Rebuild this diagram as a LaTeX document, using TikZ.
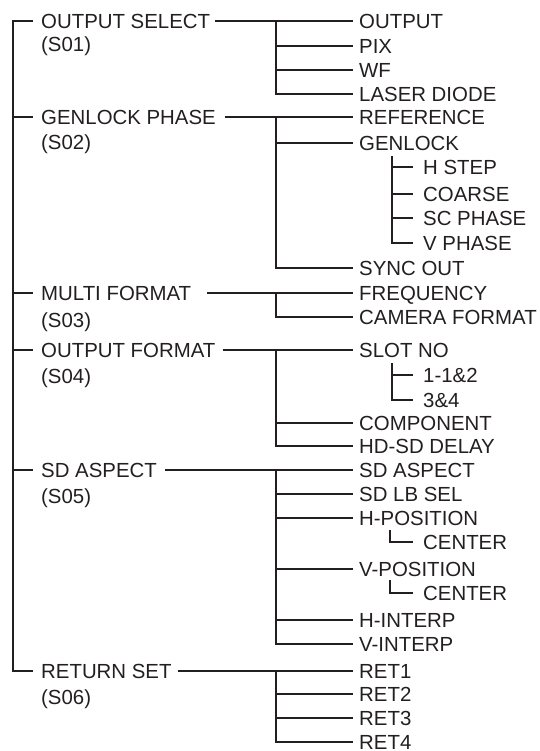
\documentclass[tikz,border=0pt]{standalone}
\usepackage{fontspec}
\setmainfont{Liberation Sans}
\definecolor{inkc}{RGB}{35,31,32}
\begin{document}
\begin{tikzpicture}[x=1pt,y=-1pt,
  ink/.style={draw=inkc, line width=1.5pt},
  lab/.style={inner sep=0pt, anchor=west, text height=14.6pt, text depth=0pt,
    font=\fontsize{20.4}{24}\selectfont, text=inkc}]
\useasboundingbox (0,0) rectangle (539,751);
% level 1
\node[lab] (os) at (41,21) {OUTPUT SELECT};
\node[lab] (s01) at (41,44) {(S01)};
\node[lab] (gp) at (41,117) {GENLOCK PHASE};
\node[lab] (s02) at (41,142) {(S02)};
\node[lab] (mf) at (41,293) {MULTI FORMAT};
\node[lab] (s03) at (41,320) {(S03)};
\node[lab] (of) at (41,350) {OUTPUT FORMAT};
\node[lab] (s04) at (41,376) {(S04)};
\node[lab] (sa) at (41,470) {SD ASPECT};
\node[lab] (s05) at (41,496) {(S05)};
\node[lab] (rs) at (41,671) {RETURN SET};
\node[lab] (s06) at (41,697) {(S06)};
% level 2
\node[lab] (output) at (359,21) {OUTPUT};
\node[lab] (pix) at (359,46) {PIX};
\node[lab] (wf) at (359,70) {WF};
\node[lab] (laser) at (359,94) {LASER DIODE};
\node[lab] (ref) at (359,117) {REFERENCE};
\node[lab] (genlock) at (359,143) {GENLOCK};
\node[lab] (syncout) at (359,268) {SYNC OUT};
\node[lab] (freq) at (359,293) {FREQUENCY};
\node[lab] (camfmt) at (359,317) {CAMERA FORMAT};
\node[lab] (slotno) at (359,350) {SLOT NO};
\node[lab] (comp) at (359,423) {COMPONENT};
\node[lab] (hdsd) at (359,446) {HD-SD DELAY};
\node[lab] (sdasp) at (359,470) {SD ASPECT};
\node[lab] (sdlb) at (359,494) {SD LB SEL};
\node[lab] (hpos) at (359,518) {H-POSITION};
\node[lab] (vpos) at (359,569) {V-POSITION};
\node[lab] (hint) at (359,620) {H-INTERP};
\node[lab] (vint) at (359,644) {V-INTERP};
\node[lab] (ret1) at (359,671) {RET1};
\node[lab] (ret2) at (359,694) {RET2};
\node[lab] (ret3) at (359,718) {RET3};
\node[lab] (ret4) at (359,742) {RET4};
% level 3
\node[lab] (hstep) at (423,167) {H STEP};
\node[lab] (coarse) at (423,194) {COARSE};
\node[lab] (scph) at (423,218) {SC PHASE};
\node[lab] (vph) at (423,243) {V PHASE};
\node[lab] (s112) at (423,375) {1-1\&2};
\node[lab] (s34) at (423,400) {3\&4};
\node[lab] (cen1) at (423,542) {CENTER};
\node[lab] (cen2) at (423,593) {CENTER};
% coordinates
\coordinate (L) at (13,0);
\coordinate (T) at (276,0);
\coordinate (g3) at (392,156);
\coordinate (n3) at (392,363);
\coordinate (c1) at (390,530);
\coordinate (c2) at (390,580);
% left trunk
\draw[ink] ([xshift=-8pt]os.west) -| (rs.west -| L) -- ([xshift=-8pt]rs.west);
\foreach \n in {gp,mf,of,sa} \draw[ink] (\n.west -| L) -- ([xshift=-8pt]\n.west);
% level-1 connectors
\draw[ink] ([xshift=5pt]os.east) -- ([xshift=-6pt]output.west);
\draw[ink] ([xshift=9pt]gp.east) -- ([xshift=-6pt]ref.west);
\draw[ink] ([xshift=16pt]mf.east) -- ([xshift=-6pt]freq.west);
\draw[ink] ([xshift=7pt]of.east) -- ([xshift=-6pt]slotno.west);
\draw[ink] ([xshift=8pt]sa.east) -- ([xshift=-6pt]sdasp.west);
\draw[ink] ([xshift=6pt]rs.east) -- ([xshift=-6pt]ret1.west);
% level-2 trunks
\draw[ink] (output.west -| T) |- ([xshift=-6pt]laser.west);
\foreach \n in {pix,wf} \draw[ink] (\n.west -| T) -- ([xshift=-6pt]\n.west);
\draw[ink] (ref.west -| T) |- ([xshift=-6pt]syncout.west);
\draw[ink] (genlock.west -| T) -- ([xshift=-6pt]genlock.west);
\draw[ink] (freq.west -| T) |- ([xshift=-6pt]camfmt.west);
\draw[ink] (slotno.west -| T) |- ([xshift=-6pt]hdsd.west);
\draw[ink] (comp.west -| T) -- ([xshift=-6pt]comp.west);
\draw[ink] (sdasp.west -| T) |- ([xshift=-6pt]vint.west);
\foreach \n in {sdlb,hpos,vpos,hint} \draw[ink] (\n.west -| T) -- ([xshift=-6pt]\n.west);
\draw[ink] (ret1.west -| T) |- ([xshift=-6pt]ret4.west);
\foreach \n in {ret2,ret3} \draw[ink] (\n.west -| T) -- ([xshift=-6pt]\n.west);
% level-3 trunks
\draw[ink] (g3) |- ([xshift=-10pt]vph.west);
\foreach \n in {hstep,coarse,scph} \draw[ink] (\n.west -| g3) -- ([xshift=-10pt]\n.west);
\draw[ink] (n3) |- ([xshift=-10pt]s34.west);
\draw[ink] (s112.west -| n3) -- ([xshift=-10pt]s112.west);
\draw[ink] (c1) |- ([xshift=-10pt]cen1.west);
\draw[ink] (c2) |- ([xshift=-10pt]cen2.west);
\end{tikzpicture}
\end{document}
